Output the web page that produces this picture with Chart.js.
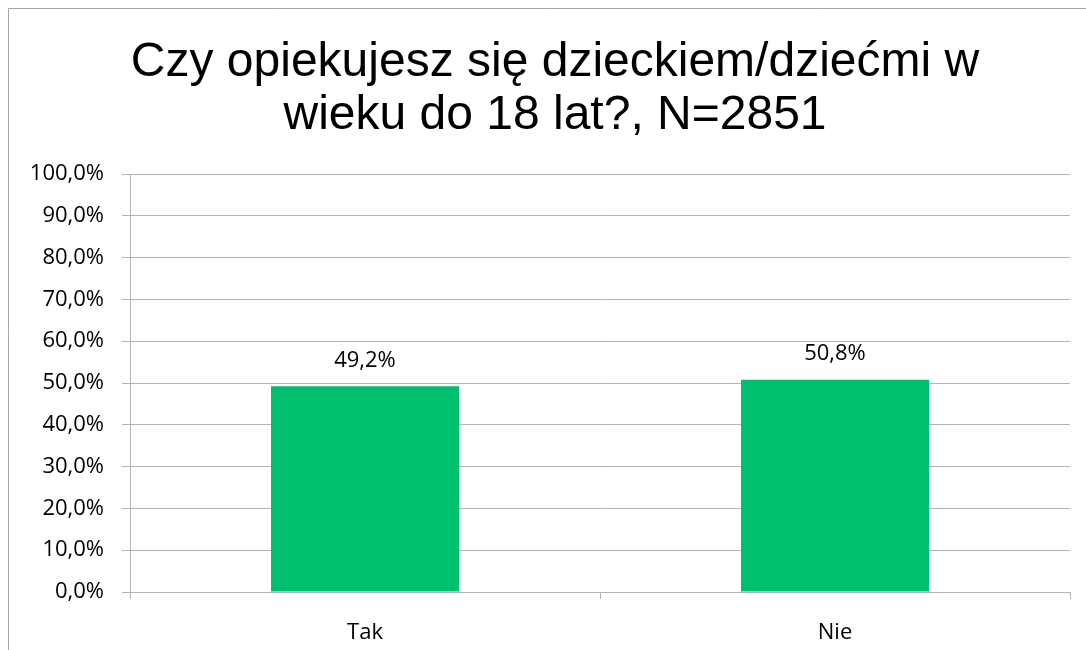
<!DOCTYPE html>
<html><head><meta charset="utf-8">
<script src="https://cdn.jsdelivr.net/npm/chart.js@4"></script>
<style>html,body{margin:0;padding:0;background:#fff}#wrap{width:1086px;height:650px;position:relative}</style>
</head><body><div id="wrap"><canvas id="c" width="1086" height="650"></canvas></div>
<script>
const titleLines = ["Czy opiekujesz się dzieckiem/dziećmi w", "wieku do 18 lat?, N=2851"];
const categories = ["Tak", "Nie"];
const values = [49.2, 50.8];
const yTicks = [0,10,20,30,40,50,60,70,80,90,100];
const fmt = v => v.toFixed(1).replace('.', ',') + '%';
const gridColor = '#b4b4b4';
const tickFont = {family: "'Open Sans'", size: 22};

const frame = {
  id: 'frame',
  beforeDraw(chart) {
    const ctx = chart.ctx;
    ctx.save();
    ctx.strokeStyle = '#a6a6a6';
    ctx.lineWidth = 1;
    ctx.beginPath();
    ctx.moveTo(8.5, 650); ctx.lineTo(8.5, 8.5); ctx.lineTo(1086, 8.5);
    ctx.stroke();
    ctx.fillStyle = '#000';
    ctx.font = "48px 'Liberation Sans'";
    ctx.textAlign = 'center';
    ctx.textBaseline = 'alphabetic';
    ctx.fillText(titleLines[0], 555, 76);
    ctx.fillText(titleLines[1], 555, 129);
    ctx.restore();
  }
};
const labels = {
  id: 'labels',
  afterDatasetsDraw(chart) {
    const ctx = chart.ctx;
    const meta = chart.getDatasetMeta(0);
    ctx.save();
    ctx.font = "22px 'Open Sans'";
    ctx.fillStyle = '#000';
    ctx.textAlign = 'center';
    ctx.textBaseline = 'middle';
    meta.data.forEach((bar, i) => {
      ctx.fillText(fmt(values[i]), bar.x, bar.y - 26);
    });
    ctx.restore();
  }
};

new Chart(document.getElementById('c'), {
  type: 'bar',
  data: { labels: categories, datasets: [{ data: values, backgroundColor: '#00bf6f', categoryPercentage: 0.8, barPercentage: 0.5 }] },
  options: {
    responsive: false, animation: false,
    layout: { padding: { left: 0, right: 16, top: 174, bottom: 0 } },
    plugins: {
      legend: { display: false }, tooltip: { enabled: false }, title: { display: false }
    },
    scales: {
      x: {
        offset: true,
        grid: { offset: true, drawOnChartArea: false, color: gridColor, tickLength: 7 },
        border: { color: gridColor },
        ticks: { color: '#000', font: tickFont, padding: 21 },
        afterFit(s) { s.height = 58; }
      },
      y: {
        min: 0, max: 100,
        afterBuildTicks(s) { s.ticks = yTicks.map(v => ({ value: v })); },
        grid: { color: gridColor, tickLength: 8, tickColor: gridColor },
        border: { color: gridColor },
        ticks: { color: '#000', font: tickFont, padding: 18, callback: v => fmt(v) },
        afterFit(s) { s.width = 130; }
      }
    }
  },
  plugins: [frame, labels]
});
</script></body></html>
